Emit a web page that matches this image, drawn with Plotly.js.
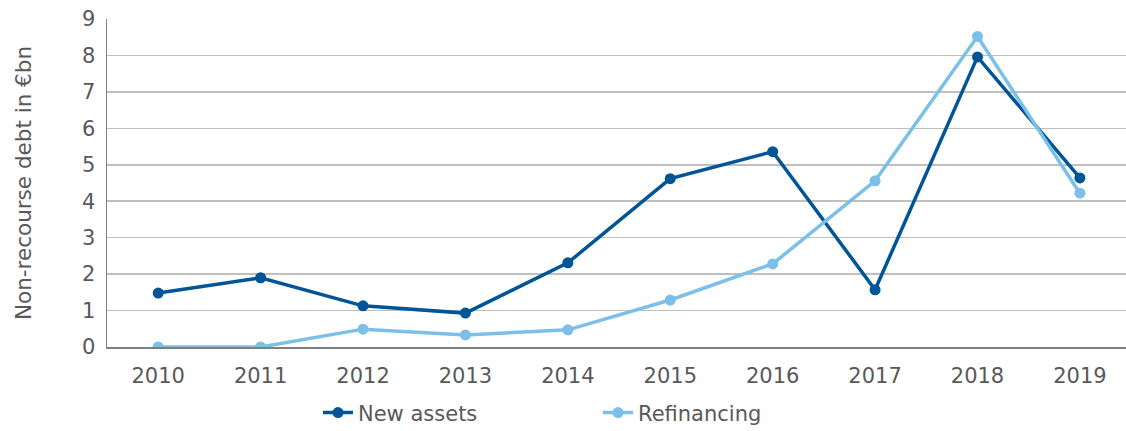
<!DOCTYPE html>
<html>
<head>
<meta charset="utf-8">
<script src="https://cdn.plot.ly/plotly-3.0.1.min.js"></script>
<style>html,body{margin:0;padding:0;background:#fff;}#chart{width:1126px;height:431px;}</style>
</head>
<body>
<div id="chart"></div>
<script>
var years = ['2010','2011','2012','2013','2014','2015','2016','2017','2018','2019'];
var newAssets = [1.48, 1.9, 1.13, 0.93, 2.31, 4.62, 5.36, 1.57, 7.96, 4.64];
var refinancing = [0.0, 0.0, 0.49, 0.33, 0.47, 1.29, 2.28, 4.56, 8.52, 4.22];
var yTicks = [0,1,2,3,4,5,6,7,8,9];

var fontFam = '"DejaVu Sans", "Noto Sans", sans-serif';
var traces = [
  {x: years, y: newAssets, name: 'New assets', type: 'scatter', mode: 'lines+markers',
   line: {color: '#005596', width: 3.5}, marker: {color: '#005596', size: 11}},
  {x: years, y: refinancing, name: 'Refinancing', type: 'scatter', mode: 'lines+markers',
   line: {color: '#7cbfe8', width: 3.5}, marker: {color: '#7cbfe8', size: 11}}
];
var layout = {
  width: 1126, height: 431,
  margin: {l: 107, r: 0, t: 19, b: 84},
  paper_bgcolor: '#fff', plot_bgcolor: '#fff',
  font: {family: fontFam, color: '#595959', size: 20},
  xaxis: {type: 'category', range: [-0.5, 9.45], showgrid: false, automargin: false,
          showline: true, linecolor: '#7f7f7f', linewidth: 2, ticks: '',
          ticklabelstandoff: 9,
          tickfont: {size: 21, color: '#595959'}, fixedrange: true},
  yaxis: {range: [0, 9], tickvals: yTicks, ticktext: yTicks.map(String), automargin: false,
          showgrid: true, gridcolor: '#bfbfbf', gridwidth: 1.5,
          showline: true, linecolor: '#7f7f7f', linewidth: 1.5, zeroline: false,
          ticks: '', ticklabelstandoff: 6,
          tickfont: {size: 21, color: '#595959'},
          title: {text: 'Non-recourse debt in €bn', font: {size: 21.5, color: '#595959'}, standoff: 44},
          fixedrange: true},
  showlegend: true,
  legend: {orientation: 'h', x: 0.2824, xanchor: 'left', xref: 'container',
           yref: 'container', y: 0.042, yanchor: 'middle',
           font: {size: 21, color: '#595959'}, entrywidth: 235, entrywidthmode: 'pixels',
           traceorder: 'normal'}
};
Plotly.newPlot('chart', traces, layout, {displayModeBar: false, staticPlot: true});
</script>
</body>
</html>
